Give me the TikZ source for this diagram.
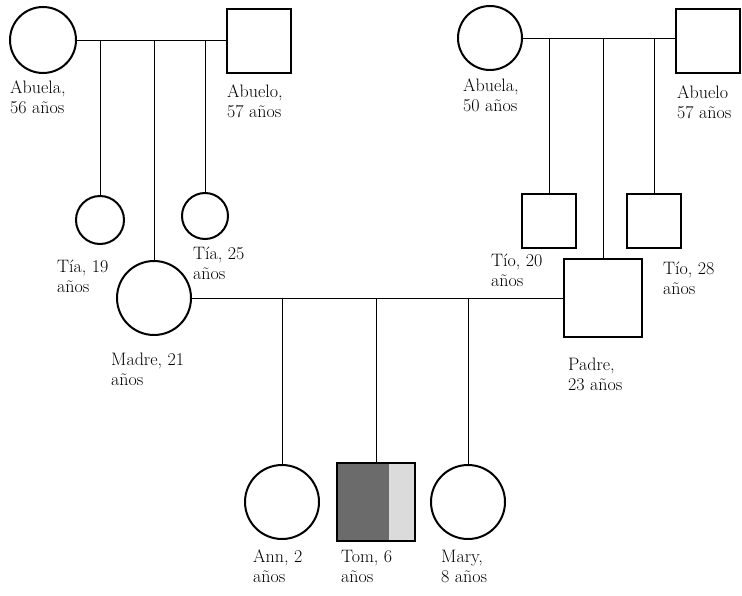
\documentclass[tikz,border=0pt]{standalone}
\usepackage{fontspec}
\usetikzlibrary{calc}
\tikzset{
  person/.style={draw, line width=2pt, inner sep=0pt},
  fem/.style={person, circle},
  male/.style={person, rectangle},
  lbl/.style={anchor=north west, align=left, inner sep=0pt, font=\fontsize{18}{20}\selectfont},
  conn/.style={line width=0.9pt},
}
\begin{document}
\begin{tikzpicture}[x=1pt,y=-1pt]
\useasboundingbox (0,0) rectangle (742,596);
% left grandparents
\node[fem, minimum size=66] (lgm) at (43,40) {};
\node[male, minimum size=64] (lgf) at (259,41) {};
\node[lbl] (lgml) at (10,81) {Abuela,\\56 años};
\node[lbl] (lgfl) at (227,85) {Abuelo,\\57 años};
% right grandparents
\node[fem, minimum size=64] (rgm) at (490,38) {};
\node[male, minimum size=64] (rgf) at (708,41) {};
\node[lbl] (rgml) at (463,79) {Abuela,\\50 años};
\node[lbl] (rgfl) at (677,86) {Abuelo\\57 años};
% left children
\node[fem, minimum size=48] (t19) at (100,220) {};
\node[fem, minimum size=46] (t25) at (205,216) {};
\node[fem, minimum size=74] (madre) at (154,298) {};
\node[lbl] (t19l) at (57,260) {Tía, 19\\años};
\node[lbl] (t25l) at (193,247) {Tía, 25\\años};
\node[lbl] (madrel) at (111,353) {Madre, 21\\años};
% right children
\node[male, minimum size=54] (t20) at (549,221) {};
\node[male, minimum size=54] (t28) at (654,221) {};
\node[male, minimum size=78] (padre) at (603,298) {};
\node[lbl] (t20l) at (491,254) {Tío, 20\\años};
\node[lbl] (t28l) at (663,262) {Tío, 28\\años};
\node[lbl] (padrel) at (568,358) {Padre,\\23 años};
% grandchildren
\node[fem, minimum size=74] (ann) at (282,502) {};
\node[male, minimum size=78,
  path picture={
    \fill[black!58] (path picture bounding box.north west) rectangle ($(path picture bounding box.south west)+(52,0)$);
    \fill[black!14] ($(path picture bounding box.north west)+(52,0)$) rectangle (path picture bounding box.south east);
  }] (tom) at (376,502) {};
\node[fem, minimum size=74] (mary) at (468,502) {};
\node[lbl] (annl) at (253,550) {Ann, 2\\años};
\node[lbl] (toml) at (341,550) {Tom, 6\\años};
\node[lbl] (maryl) at (441,550) {Mary,\\8 años};
% connectors
\draw[conn] (lgm.east) -- (lgm.east -| lgf.west);
\draw[conn] (t19.north) -- (t19.north |- lgm.east);
\draw[conn] (madre.north) -- (madre.north |- lgm.east);
\draw[conn] (t25.north) -- (t25.north |- lgm.east);
\draw[conn] (rgm.east) -- (rgm.east -| rgf.west);
\draw[conn] (t20.north) -- (t20.north |- rgm.east);
\draw[conn] (padre.north) -- (padre.north |- rgm.east);
\draw[conn] (t28.north) -- (t28.north |- rgm.east);
\draw[conn] (madre.east) -- (madre.east -| padre.west);
\draw[conn] (ann.north) -- (ann.north |- madre.east);
\draw[conn] (tom.north) -- (tom.north |- madre.east);
\draw[conn] (mary.north) -- (mary.north |- madre.east);
\end{tikzpicture}
\end{document}
